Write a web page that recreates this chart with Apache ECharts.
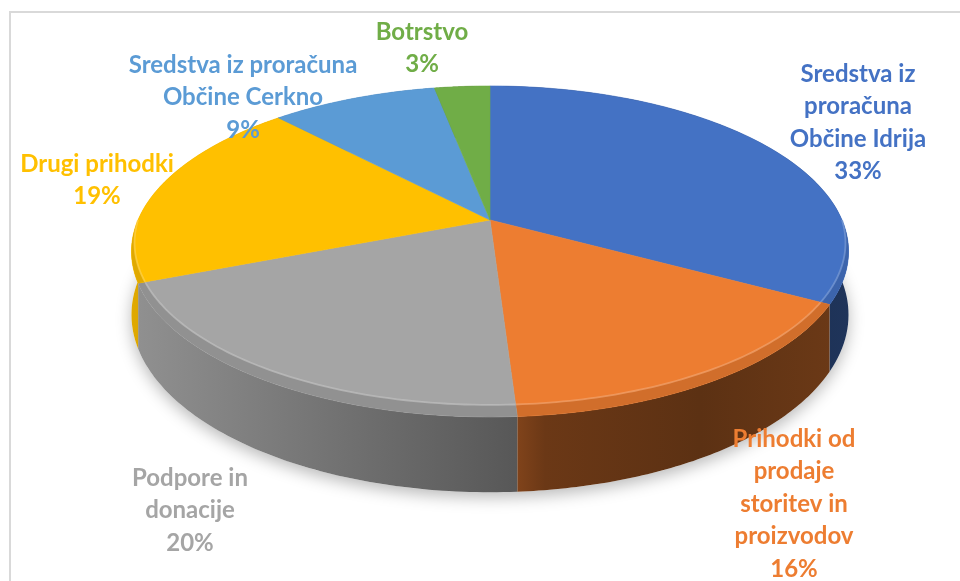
<!DOCTYPE html>
<html>
<head>
<meta charset="utf-8">
<script src="https://cdn.jsdelivr.net/npm/echarts@6/dist/echarts.min.js"></script>
<style>
  html, body { margin: 0; padding: 0; background: #fff; }
  #chart { width: 960px; height: 581px; }
</style>
</head>
<body>
<div id="chart"></div>
<script>
// data (percent of total, clockwise from 12 o'clock)
const categories = [
  'Sredstva iz proračuna Občine Idrija',
  'Prihodki od prodaje storitev in proizvodov',
  'Podpore in donacije',
  'Drugi prihodki',
  'Sredstva iz proračuna Občine Cerkno',
  'Botrstvo'
];
const shares = [33, 16, 20, 19, 9, 3];
const colors = ['#4472c4', '#ed7d31', '#a5a5a5', '#ffc000', '#5b9bd5', '#70ad47'];

// label wrapping as in the original (Excel wraps the text)
const labelLines = [
  ['Sredstva iz', 'proračuna', 'Občine Idrija'],
  ['Prihodki od', 'prodaje', 'storitev in', 'proizvodov'],
  ['Podpore in', 'donacije'],
  ['Drugi prihodki'],
  ['Sredstva iz proračuna', 'Občine Cerkno'],
  ['Botrstvo']
];
// layout: label centre x, centre y of first line
const labelAnchor = [[858, 74], [794, 439], [190, 478], [97, 164], [243, 65], [422, 32]];

// projection of the tilted disc (perspective)
const CX = 490, CY = 220, KX = 352, KY = 159.5, PERSP = 0.19, DEPTH = 61;
const LINE_H = 32.5;
const TOTAL = shares.reduce((s, v) => s + v, 0);
const TAU = Math.PI * 2;

const proj = (phi, r, h) => {
  const u = r * Math.sin(phi);
  const v = r * Math.cos(phi);
  const w = 1 + PERSP * v;
  return [CX + KX * u / w, CY - KY * v / w + h / w];
};
const arcPts = (a, b, r, h, n) => {
  const pts = [];
  for (let i = 0; i <= n; i++) {
    pts.push(proj(a + (b - a) * i / n, r, h));
  }
  return pts;
};
const rgb = (hex) => [1, 3, 5].map((i) => parseInt(hex.slice(i, i + 2), 16));
const shade = (hex, f) => {
  const c = rgb(hex).map((x) => Math.max(0, Math.min(255, Math.round(x * f))));
  return 'rgb(' + c.join(',') + ')';
};
const lighten = (hex, t) => {
  const c = rgb(hex).map((x) => Math.round(x + (255 - x) * t));
  return 'rgb(' + c.join(',') + ')';
};
// side wall lighting, lighter on the left
const wallStops = [[130, 0.88], [330, 0.7], [520, 0.53], [545, 0.45], [700, 0.39], [850, 0.46]];
const wallFill = (hex) => new echarts.graphic.LinearGradient(130, 0, 850, 0,
  wallStops.map(([x, f]) => ({ offset: (x - 130) / 720, color: shade(hex, f) })), true);

let acc = 0;
const sliceData = shares.map((v, i) => {
  const item = { name: categories[i], value: [acc, acc + v, v] };
  acc += v;
  return item;
});

const chart = echarts.init(document.getElementById('chart'));

chart.setOption({
  animation: false,
  graphic: [{
    type: 'rect',
    shape: { x: 10, y: 12, width: 1000, height: 1000 },
    style: { fill: 'none', stroke: '#d9d9d9', lineWidth: 2 },
    z: 0
  }],
  series: [
    {
      // soft shadow under the pie
      type: 'custom',
      coordinateSystem: 'none',
      z: 1,
      silent: true,
      data: [[0]],
      renderItem: () => ({
        type: 'polygon',
        shape: { points: arcPts(0, TAU, 1, DEPTH, 180) },
        style: {
          fill: '#fff',
          shadowColor: 'rgba(0,0,0,0.28)',
          shadowBlur: 16,
          shadowOffsetY: 5
        }
      })
    },
    {
      // side walls
      type: 'custom',
      coordinateSystem: 'none',
      z: 2,
      data: sliceData,
      renderItem: (params, api) => {
        const a = api.value(0) / TOTAL * TAU;
        const b = api.value(1) / TOTAL * TAU;
        const top = arcPts(a, b, 1, 0, 80);
        const bot = arcPts(a, b, 1, DEPTH, 80).reverse();
        return {
          type: 'polygon',
          shape: { points: top.concat(bot) },
          style: { fill: wallFill(colors[params.dataIndex]) }
        };
      }
    },
    {
      // top faces, bevel and labels
      type: 'custom',
      coordinateSystem: 'none',
      z: 3,
      data: sliceData,
      renderItem: (params, api) => {
        const i = params.dataIndex;
        const a = api.value(0) / TOTAL * TAU;
        const b = api.value(1) / TOTAL * TAU;
        const col = colors[i];
        const children = [{
          type: 'polygon',
          shape: { points: [proj(0, 0, 0)].concat(arcPts(a, b, 1, 0, 100)) },
          style: { fill: col, stroke: col, lineWidth: 0.6 }
        }];
        // rounded edge on the front half
        const s = Math.max(a, Math.PI / 2), e = Math.min(b, Math.PI * 1.5);
        if (e > s) {
          const n = 60, outer = [], inner = [];
          for (let k = 0; k <= n; k++) {
            const phi = s + (e - s) * k / n;
            const bw = 0.05 * Math.max(0, -Math.cos(phi));
            outer.push(proj(phi, 1, 0));
            inner.push(proj(phi, 1 - bw, 0));
          }
          children.push({
            type: 'polygon',
            shape: { points: outer.concat(inner.slice().reverse()) },
            style: { fill: shade(col, 0.88) }
          });
          children.push({
            type: 'polyline',
            shape: { points: inner },
            style: { fill: 'none', stroke: lighten(col, 0.3), lineWidth: 1.8, opacity: 0.7 }
          });
        }
        const [lx, ly] = labelAnchor[i];
        const pct = Math.round(api.value(2) / TOTAL * 100) + '%';
        children.push({
          type: 'text',
          z2: 10,
          style: {
            x: lx,
            y: ly - LINE_H / 2,
            text: labelLines[i].concat([pct]).join('\n'),
            fill: col,
            font: 'bold 24px Lato',
            align: 'center',
            verticalAlign: 'top',
            lineHeight: LINE_H
          }
        });
        return { type: 'group', children };
      }
    }
  ]
});
</script>
</body>
</html>
